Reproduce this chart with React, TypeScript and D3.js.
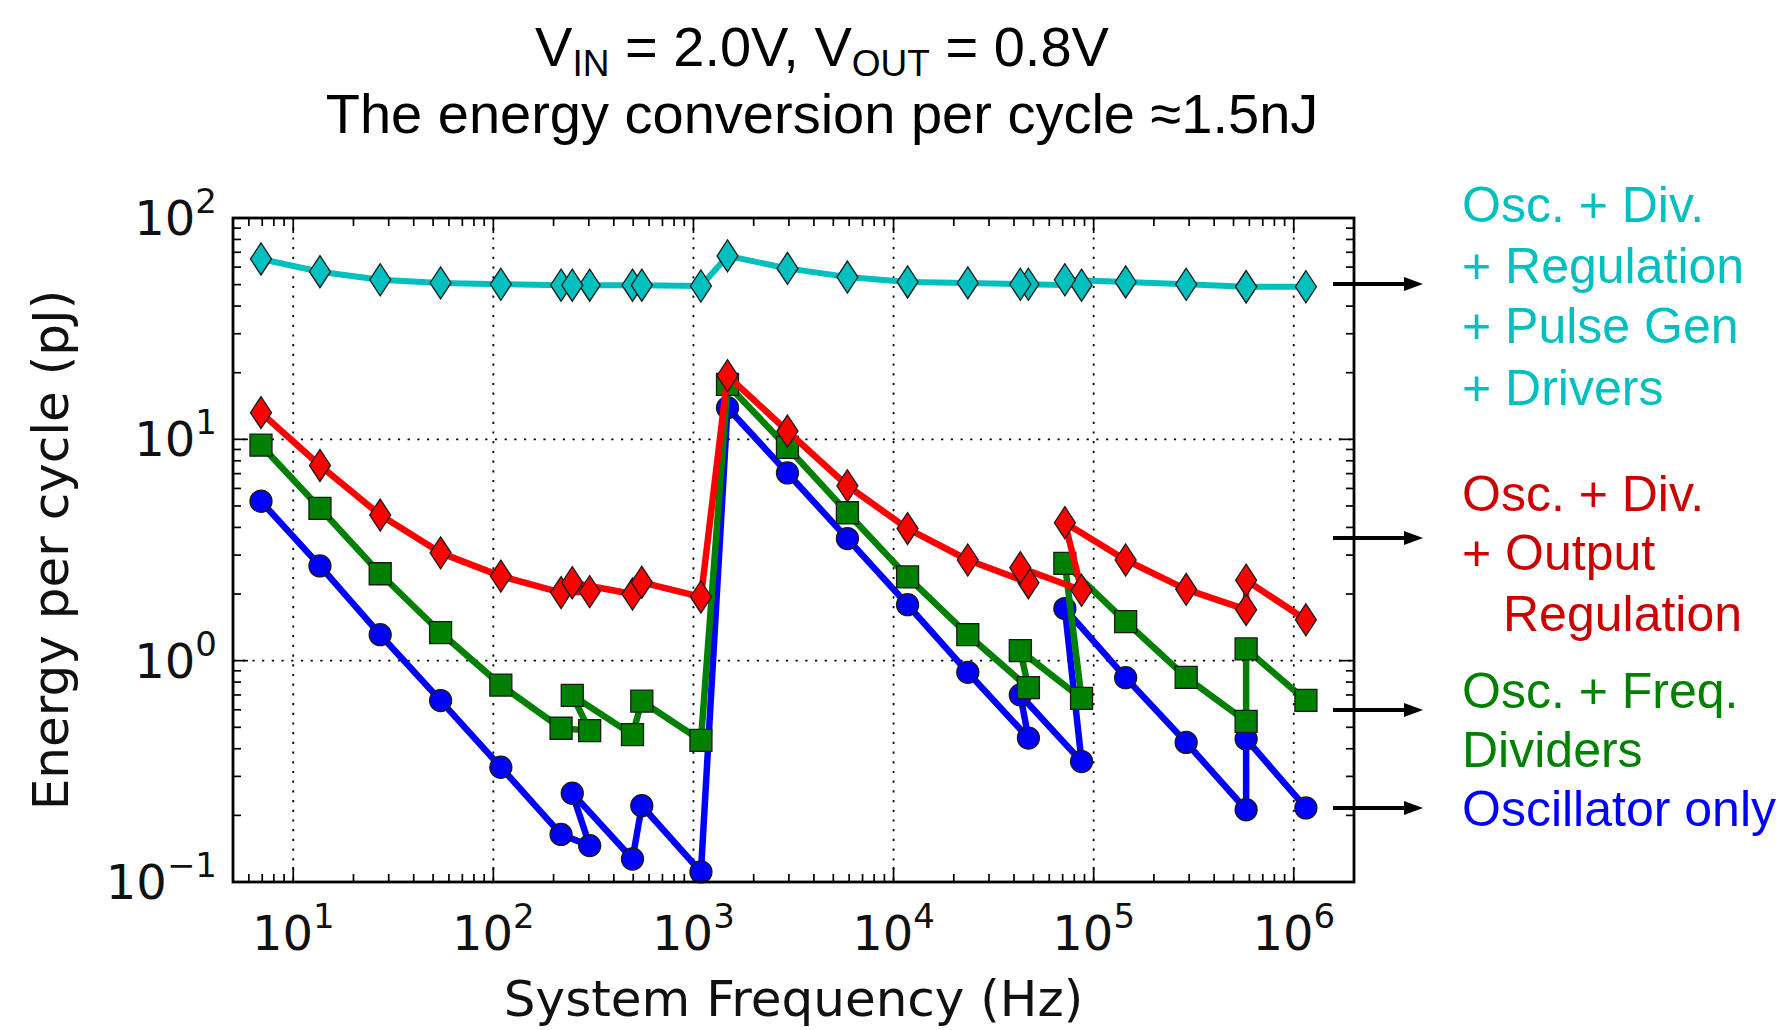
import * as d3 from 'd3';
import { useEffect, useRef } from 'react';

// system frequency (Hz), in measurement order (the lines follow this order)
const freqs = [
  6.9, 13.6, 27.2, 54.5, 109, 218, 303, 248, 496, 552, 1090,
  1480, 2950, 5880, 11750, 23500, 47200, 43000, 87000, 71800,
  144500, 290000, 578000, 578000, 1150000,
];

// energy per cycle (pJ)
const fullSystem = [
  65.3, 57.2, 52.6, 50.9, 50.2, 49.7, 49.7, 49.7, 49.7, 49.7, 49.3,
  67.4, 59.2, 54.1, 51.4, 50.9, 50.2, 50.2, 49.7, 52.6,
  51.4, 50.2, 48.9, 48.9, 48.9,
];
const oscDivOutput = [
  13.2, 7.62, 4.55, 3.07, 2.41, 2.03, 2.05, 2.25, 2.0, 2.26, 1.94,
  19.4, 10.9, 6.17, 3.95, 2.85, 2.25, 2.63, 2.08, 4.2,
  2.85, 2.1, 1.7, 2.31, 1.53,
];
const oscDividers = [
  9.41, 4.88, 2.47, 1.34, 0.776, 0.495, 0.483, 0.697, 0.463, 0.656, 0.436,
  17.7, 9.19, 4.66, 2.39, 1.31, 0.755, 1.11, 0.675, 2.75,
  1.5, 0.841, 0.532, 1.13, 0.661,
];
const oscOnly = [
  5.25, 2.68, 1.31, 0.66, 0.33, 0.164, 0.146, 0.252, 0.127, 0.221, 0.111,
  13.9, 7.05, 3.56, 1.79, 0.886, 0.447, 0.7, 0.35, 1.72,
  0.838, 0.427, 0.212, 0.443, 0.216,
];

const xExponents = [1, 2, 3, 4, 5, 6];
const yExponents = [-1, 0, 1, 2];

const labelBlocks = [
  { color: '#00bfbf', lines: ['Osc. + Div.', '+ Regulation', '+ Pulse Gen', '+ Drivers'], indent: [0, 0, 0, 0] },
  { color: '#cc0000', lines: ['Osc. + Div.', '+ Output', 'Regulation'], indent: [0, 0, 41] },
  { color: '#008000', lines: ['Osc. + Freq.', 'Dividers'], indent: [0, 0] },
  { color: '#0000ff', lines: ['Oscillator only'], indent: [0] },
];

export default function App() {
  const ref = useRef<SVGSVGElement>(null);

  useEffect(() => {
    const svg = d3.select(ref.current);
    svg.selectAll('*').remove();

    const left = 233, right = 1354, top = 218, bottom = 882;
    const x = d3.scaleLog().domain([5, 2e6]).range([left, right]);
    const y = d3.scaleLog().domain([0.1, 100]).range([bottom, top]);

    svg.append('rect').attr('width', 1788).attr('height', 1030).attr('fill', '#fff');

    /* ---------- TITLE ---------- */
    const t1 = svg.append('text')
      .attr('x', 822).attr('y', 66)
      .attr('text-anchor', 'middle')
      .style('font-family', '"Liberation Sans", Arial, sans-serif')
      .style('font-size', '56px');
    t1.append('tspan').text('V');
    t1.append('tspan').attr('dy', 10).style('font-size', '37px').text('IN');
    t1.append('tspan').attr('dy', -10).text(' = 2.0V, V');
    t1.append('tspan').attr('dy', 10).style('font-size', '37px').text('OUT');
    t1.append('tspan').attr('dy', -10).text(' = 0.8V');

    svg.append('text')
      .attr('x', 822).attr('y', 133)
      .attr('text-anchor', 'middle')
      .style('font-family', '"Liberation Sans", Arial, sans-serif')
      .style('font-size', '56px')
      .text('The energy conversion per cycle \u22481.5nJ');

    /* ---------- GRID ---------- */
    const grid = svg.append('g')
      .attr('stroke', '#000')
      .attr('stroke-width', 1.8)
      .attr('stroke-dasharray', '2.2,7.5');
    xExponents.forEach(e => {
      grid.append('line')
        .attr('x1', x(10 ** e)).attr('x2', x(10 ** e))
        .attr('y1', top).attr('y2', bottom);
    });
    yExponents.filter(e => e > -1 && e < 2).forEach(e => {
      grid.append('line')
        .attr('x1', left).attr('x2', right)
        .attr('y1', y(10 ** e)).attr('y2', y(10 ** e));
    });

    /* ---------- TICKS ---------- */
    const ticks = svg.append('g').attr('stroke', '#000').attr('stroke-width', 1.7);
    const [xd0, xd1] = x.domain();
    for (let d = 0; d <= 6; d++) {
      for (let k = 1; k <= 9; k++) {
        const v = k * 10 ** d;
        if (v < xd0 || v > xd1) continue;
        const len = k === 1 ? 15 : 8;
        ticks.append('line').attr('x1', x(v)).attr('x2', x(v)).attr('y1', bottom).attr('y2', bottom - len);
        ticks.append('line').attr('x1', x(v)).attr('x2', x(v)).attr('y1', top).attr('y2', top + len);
      }
    }
    for (let d = -1; d <= 2; d++) {
      for (let k = 1; k <= 9; k++) {
        const v = k * 10 ** d;
        if (v < 0.1 || v > 100) continue;
        const len = k === 1 ? 15 : 8;
        ticks.append('line').attr('y1', y(v)).attr('y2', y(v)).attr('x1', left).attr('x2', left + len);
        ticks.append('line').attr('y1', y(v)).attr('y2', y(v)).attr('x1', right).attr('x2', right - len);
      }
    }

    /* ---------- SERIES ---------- */
    const line = d3.line<[number, number]>().x(d => x(d[0])).y(d => y(d[1]));
    const diamond = 'M0,-16L10.5,0L0,16L-10.5,0Z';
    const square = 'M-11,-11H11V11H-11Z';
    const circle = d3.symbol(d3.symbolCircle, Math.PI * 11 * 11)() as string;

    const series = [
      { values: oscOnly, color: '#0000ff', marker: circle, width: 6.5 },
      { values: oscDividers, color: '#008000', marker: square, width: 6.5 },
      { values: oscDivOutput, color: '#ff0000', marker: diamond, width: 6.5 },
      { values: fullSystem, color: '#00bfbf', marker: diamond, width: 6 },
    ];

    series.forEach(s => {
      const pts = freqs.map((f, i) => [f, s.values[i]] as [number, number]);
      const g = svg.append('g');
      g.append('path')
        .attr('d', line(pts))
        .attr('fill', 'none')
        .attr('stroke', s.color)
        .attr('stroke-width', s.width)
        .attr('stroke-linejoin', 'round');
      g.selectAll('.m')
        .data(pts)
        .enter()
        .append('path')
        .attr('d', s.marker)
        .attr('transform', d => `translate(${x(d[0])},${y(d[1])})`)
        .attr('fill', s.color)
        .attr('stroke', '#1a1a1a')
        .attr('stroke-width', 1.3);
    });

    /* ---------- FRAME ---------- */
    svg.append('rect')
      .attr('x', left).attr('y', top)
      .attr('width', right - left).attr('height', bottom - top)
      .attr('fill', 'none').attr('stroke', '#000').attr('stroke-width', 2.8);

    /* ---------- TICK LABELS ---------- */
    const font = '"DejaVu Sans", sans-serif';
    xExponents.forEach(e => {
      const t = svg.append('text')
        .attr('x', x(10 ** e)).attr('y', 950)
        .attr('text-anchor', 'middle')
        .style('font-family', font).style('font-size', '48px').attr('fill', '#111');
      t.append('tspan').text('10');
      t.append('tspan').attr('dy', -22).style('font-size', '34px').text(String(e));
    });
    yExponents.forEach(e => {
      const t = svg.append('text')
        .attr('x', 217).attr('y', y(10 ** e) + 17)
        .attr('text-anchor', 'end')
        .style('font-family', font).style('font-size', '48px').attr('fill', '#111');
      t.append('tspan').text('10');
      t.append('tspan').attr('dy', -22).style('font-size', '34px').text(e < 0 ? '\u2212' + Math.abs(e) : String(e));
    });

    /* ---------- AXIS LABELS ---------- */
    svg.append('text')
      .attr('x', (left + right) / 2).attr('y', 1016)
      .attr('text-anchor', 'middle')
      .style('font-family', font).style('font-size', '50px').attr('fill', '#111')
      .text('System Frequency (Hz)');
    svg.append('text')
      .attr('transform', `translate(68,${(top + bottom) / 2}) rotate(-90)`)
      .attr('text-anchor', 'middle')
      .style('font-family', font).style('font-size', '50px').attr('fill', '#111')
      .text('Energy per cycle (pJ)');

    /* ---------- ANNOTATIONS ---------- */
    const arrowYs = [284, 538, 710, 808];
    const blockBaselines = [[222, 283, 343, 405], [511, 570, 631], [708, 767], [826]];
    arrowYs.forEach(ay => {
      svg.append('line')
        .attr('x1', 1333).attr('x2', 1408).attr('y1', ay).attr('y2', ay)
        .attr('stroke', '#000').attr('stroke-width', 4);
      svg.append('path')
        .attr('d', `M1423,${ay}L1404,${ay - 7}L1404,${ay + 7}Z`)
        .attr('fill', '#000');
    });
    labelBlocks.forEach((b, bi) => {
      b.lines.forEach((txt, li) => {
        svg.append('text')
          .attr('x', 1462 + b.indent[li]).attr('y', blockBaselines[bi][li])
          .style('font-family', '"Liberation Sans", Arial, sans-serif')
          .style('font-size', '50px')
          .attr('fill', b.color)
          .text(txt);
      });
    });
  }, []);

  return (
    <svg ref={ref} width={1788} height={1030} style={{ position: 'absolute', left: 0, top: 0 }} />
  );
}
